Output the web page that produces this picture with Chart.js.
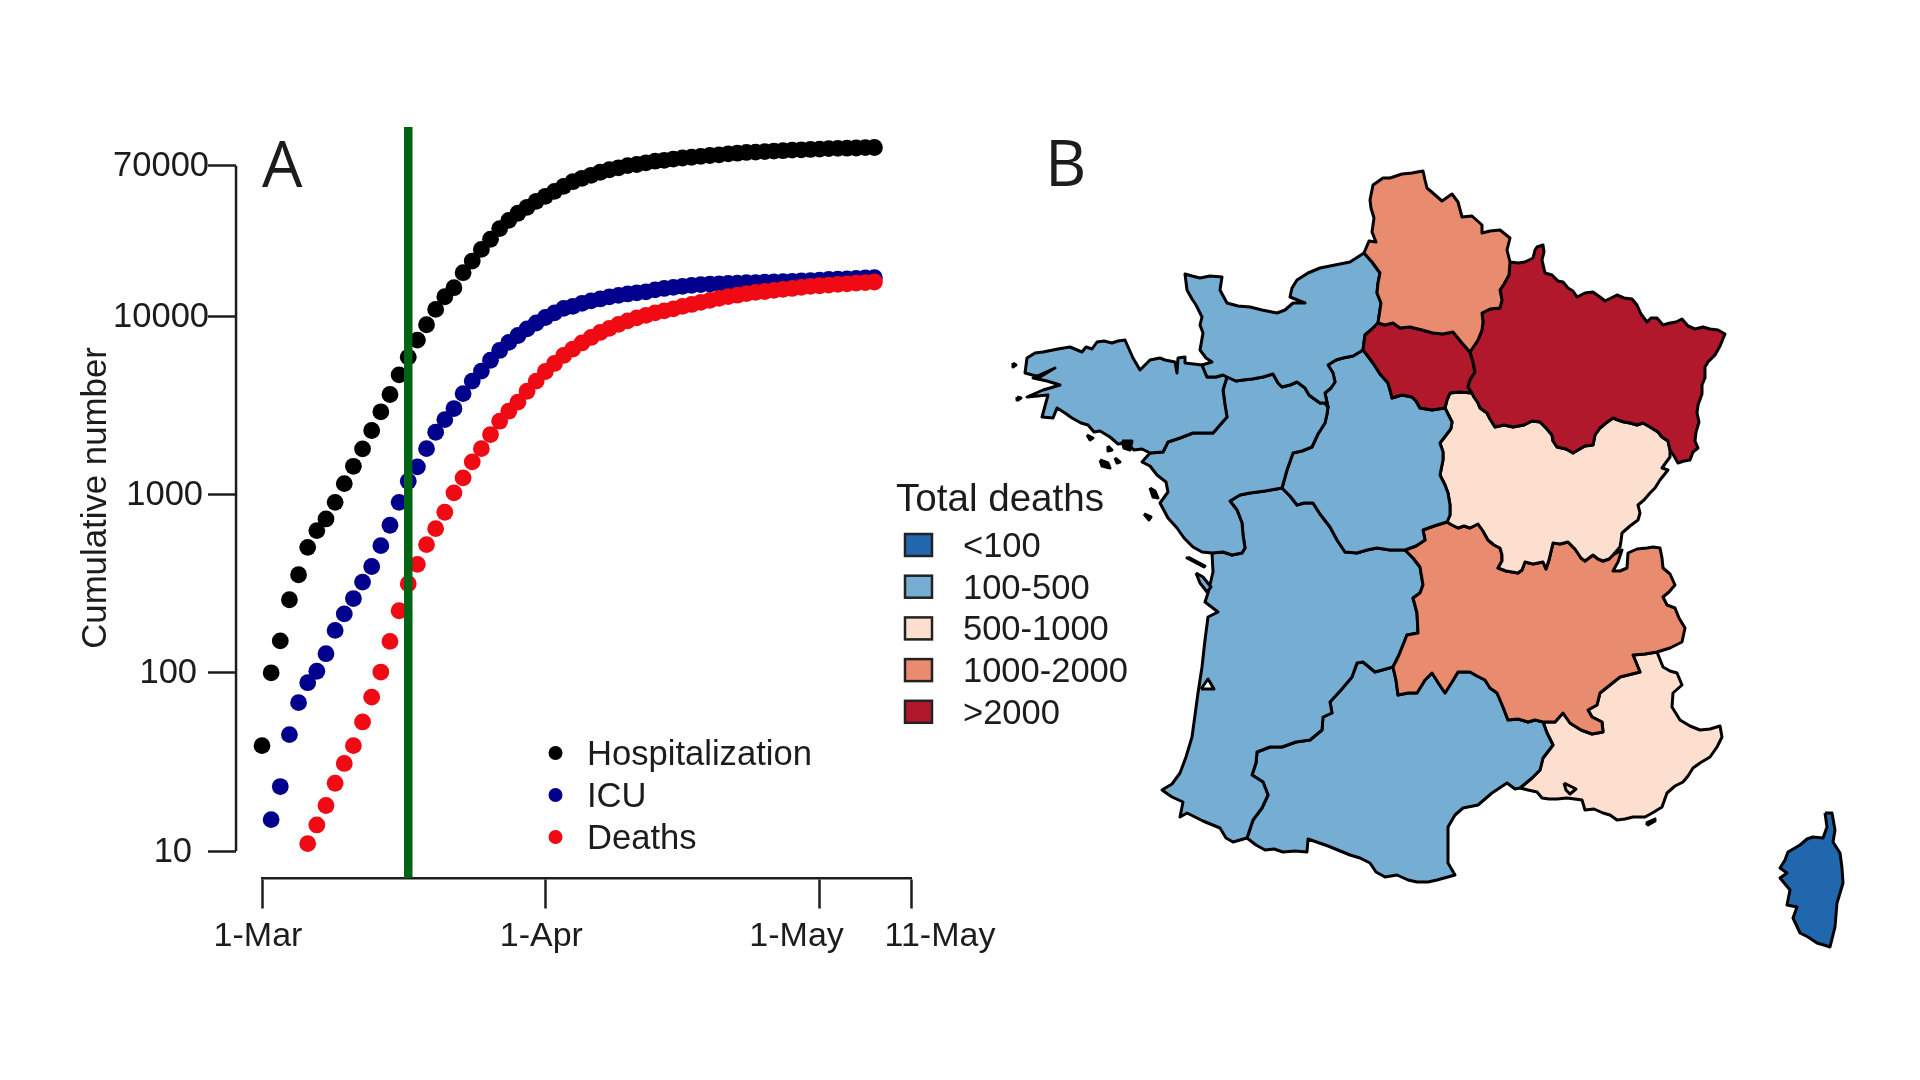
<!DOCTYPE html>
<html>
<head>
<meta charset="utf-8">
<style>
  html, body { margin: 0; background: #fff; }
  canvas { position: absolute; left: 0; top: 0; }
</style>
<script src="https://cdn.jsdelivr.net/npm/chart.js@4"></script>
</head>
<body>
<canvas id="map" width="1920" height="1080"></canvas>
<canvas id="curves" width="1920" height="1080"></canvas>
<script>
/* Panel A: days since 1 March, cumulative counts */
const hospStart = 0;
const hospitalization = [39, 100, 151, 257, 355, 506, 628, 730, 905, 1153, 1442, 1807, 2290, 2915, 3645, 4700, 5905, 7360, 8980, 10950,
  12890, 14490, 17590, 20450, 23770, 27100, 31100, 34600, 37930, 40950, 44260, 47210, 50350, 53700, 57020, 59570, 61950, 64400, 66530, 68230,
  70150, 71200, 72780, 74300, 75200, 76400, 77450, 78200, 79070, 79980, 80720, 81660, 82410, 83180, 83560, 84140, 84720, 85110, 85700, 86100,
  86500, 86900, 87500, 87700, 87900, 88100, 88500, 88720];
const icuStart = 1;
const icu = [15, 23, 45, 68, 88, 102, 128, 173, 214, 261, 323, 395, 517, 673, 905, 1188, 1432, 1811, 2239, 2637,
  3041, 3690, 4335, 4932, 5675, 6440, 7145, 7816, 8510, 9183, 9863, 10470, 11090, 11380, 11830, 12220, 12530, 12880, 13120, 13370,
  13550, 13740, 14090, 14350, 14550, 14760, 14930, 15070, 15170, 15240, 15310, 15380, 15450, 15490, 15560, 15630, 15680, 15740, 15810, 15880,
  16000, 16110, 16180, 16260, 16330, 16440, 16490];
const deathsStart = 5;
const deaths = [11, 14, 18, 24, 31, 39, 53, 73, 101, 150, 223, 316, 406, 524, 644, 796, 1023, 1241, 1527, 1811,
  2173, 2582, 2938, 3303, 3802, 4335, 4909, 5445, 6039, 6561, 7096, 7621, 8128, 8570, 9016, 9441, 9817, 10140, 10470, 10740,
  11020, 11380, 11670, 11990, 12300, 12620, 12910, 13150, 13430, 13650, 13800, 14000, 14190, 14350, 14550, 14760, 14860, 15000, 15140, 15240,
  15380, 15490, 15600];
const lockdownDay = 16;
const seriesNames = ['Hospitalization', 'ICU', 'Deaths'];
const seriesColors = ['#000000', '#00008c', '#f00a14'];
const yTickValues = [10, 100, 1000, 10000, 70000];
const xTickDays = [0, 31, 61, 71];
const xTickLabels = ['1-Mar', '1-Apr', '1-May', '11-May'];

/* Panel B: legend classes and region outlines in map units */
const classNames = ['<100', '100-500', '500-1000', '1000-2000', '>2000'];
const classColors = ['#2067ad', '#75aed2', '#fddfcf', '#e88b6f', '#b2182b'];

const nordCoast = [[1364,253],[1369,241],[1376,242],[1372,232],[1374,218],[1371,208],[1370,200],[1373,185],[1383,178],[1390,178],[1402,174],[1412,173],[1423,171],[1425,180],[1427,188],[1434,194],[1442,201],[1452,194],[1458,202],[1462,217],[1472,216],[1482,225],[1482,233],[1490,231],[1500,230],[1510,238],[1507,250],[1510,262]];
const hdfGes = [[1510,262],[1509,275],[1504,284],[1500,290],[1502,300],[1500,308],[1490,309],[1482,313],[1483,322],[1482,330],[1478,340],[1470,352]];
const hdfIdf = [[1470,352],[1462,343],[1453,332],[1443,334],[1433,333],[1422,330],[1410,327],[1400,328],[1393,323],[1385,325],[1378,323]];
const gesOuter = [[1510,262],[1518,263],[1525,262],[1533,258],[1535,250],[1537,247],[1543,245],[1544,252],[1542,260],[1545,273],[1552,275],[1558,281],[1563,282],[1568,288],[1573,291],[1577,297],[1585,293],[1593,292],[1600,297],[1605,301],[1611,298],[1617,295],[1624,298],[1632,299],[1637,305],[1641,314],[1647,322],[1651,318],[1657,318],[1663,325],[1670,323],[1676,322],[1682,319],[1688,326],[1695,329],[1703,327],[1710,329],[1718,330],[1725,334],[1720,346],[1715,355],[1708,362],[1705,367],[1705,378],[1702,385],[1702,394],[1698,405],[1697,413],[1699,422],[1696,432],[1695,441],[1698,448],[1693,452],[1690,460],[1684,461],[1678,463],[1674,456],[1670,450]];
const gesBfc = [[1670,450],[1668,441],[1662,437],[1658,432],[1650,427],[1643,423],[1637,425],[1630,423],[1624,422],[1618,420],[1613,418],[1606,423],[1600,428],[1595,435],[1593,445],[1585,446],[1578,450],[1573,453],[1566,449],[1557,447],[1553,441],[1552,435],[1546,428],[1540,422],[1532,421],[1524,425],[1513,427],[1504,425],[1495,427],[1490,419],[1487,413],[1480,408],[1478,403],[1474,397],[1472,393]];
const idfGes = [[1470,352],[1473,362],[1475,372],[1470,380],[1468,387],[1472,393]];
const idfBfc = [[1472,393],[1460,392],[1450,393],[1447,400],[1445,408]];
const idfCvl = [[1445,408],[1432,410],[1420,408],[1416,401],[1412,397],[1402,395],[1392,398],[1390,390],[1388,383],[1380,374],[1373,363],[1367,355],[1363,350]];
const norIdf = [[1363,350],[1365,335],[1372,329],[1378,323]];
const norHdf = [[1378,323],[1381,303],[1377,293],[1378,283],[1380,273],[1372,262],[1364,253]];
const norCoast = [[1364,253],[1350,262],[1335,265],[1320,268],[1308,273],[1297,280],[1292,288],[1290,297],[1305,303],[1293,303],[1285,310],[1277,313],[1262,310],[1250,307],[1238,306],[1227,303],[1220,290],[1222,277],[1210,276],[1200,278],[1192,276],[1185,274],[1187,290],[1192,299],[1196,305],[1202,317],[1200,325],[1203,333],[1200,350],[1206,358],[1212,362],[1202,365]];
const norBre = [[1202,365],[1207,377],[1216,377],[1223,375],[1227,377]];
const norPdl = [[1227,377],[1236,381],[1243,380],[1252,379],[1263,377],[1273,374],[1278,383],[1282,387],[1290,385],[1297,382],[1305,388],[1309,395],[1313,398],[1320,403],[1325,403],[1328,407]];
const norCvl = [[1328,407],[1325,393],[1331,388],[1335,382],[1333,373],[1328,365],[1336,360],[1343,358],[1353,356],[1363,350]];
const breCoast = [[1202,365],[1185,363],[1185,357],[1178,358],[1177,373],[1175,362],[1165,360],[1160,358],[1150,360],[1140,370],[1133,358],[1125,340],[1118,341],[1112,343],[1104,341],[1097,342],[1092,349],[1086,347],[1082,352],[1070,347],[1058,349],[1043,352],[1035,353],[1027,358],[1025,373],[1040,377],[1055,368],[1033,378],[1047,381],[1060,385],[1050,388],[1043,390],[1027,397],[1048,395],[1042,417],[1053,418],[1057,408],[1065,413],[1072,418],[1081,423],[1088,425],[1094,432],[1100,431],[1110,437],[1118,444],[1126,443],[1134,450],[1142,449],[1150,453]];
const brePdl = [[1150,453],[1163,452],[1168,442],[1180,438],[1193,433],[1203,433],[1213,433],[1220,425],[1227,417],[1225,405],[1223,390],[1227,377]];
const pdlCoast = [[1150,453],[1142,462],[1150,466],[1157,475],[1166,482],[1168,492],[1160,503],[1168,518],[1177,528],[1184,538],[1193,547],[1202,552],[1212,553]];
const pdlNaq = [[1212,553],[1223,552],[1232,555],[1242,553],[1245,548],[1243,535],[1242,523],[1237,510],[1230,501],[1240,495],[1250,493],[1265,491],[1282,488]];
const pdlCvl = [[1282,488],[1287,470],[1293,453],[1302,451],[1312,447],[1318,434],[1325,423],[1327,414],[1328,407]];
const cvlNaq = [[1282,488],[1290,496],[1297,505],[1304,503],[1313,503],[1320,514],[1330,527],[1337,540],[1345,552],[1357,553],[1367,550],[1377,548],[1390,550],[1405,550]];
const cvlAra = [[1405,550],[1416,546],[1425,540],[1423,530],[1434,526],[1447,522]];
const cvlBfc = [[1445,408],[1452,422],[1451,428],[1450,430],[1440,443],[1443,452],[1443,460],[1440,475],[1445,485],[1448,493],[1450,505],[1450,515],[1447,522]];
const bfcAra = [[1447,522],[1452,525],[1458,528],[1464,526],[1470,528],[1478,524],[1483,531],[1488,540],[1494,545],[1500,548],[1502,555],[1502,561],[1498,568],[1506,571],[1518,573],[1522,570],[1525,562],[1533,564],[1543,562],[1546,569],[1549,560],[1553,543],[1560,544],[1568,542],[1575,549],[1581,558],[1585,561],[1593,555],[1598,559],[1603,561],[1609,559],[1613,555]];
const bfcEast = [[1670,450],[1670,457],[1662,468],[1668,470],[1660,480],[1655,488],[1650,493],[1644,500],[1638,505],[1640,513],[1638,520],[1630,526],[1622,533],[1621,541],[1620,547],[1613,555]];
const araEast = [[1613,555],[1622,550],[1618,562],[1613,571],[1620,571],[1627,568],[1628,553],[1637,549],[1647,548],[1653,547],[1660,548],[1662,558],[1663,568],[1670,574],[1675,585],[1669,592],[1663,597],[1667,605],[1675,608],[1679,618],[1685,628],[1682,642],[1670,648],[1657,652]];
const araPac = [[1657,652],[1645,654],[1633,655],[1640,672],[1628,675],[1620,677],[1610,685],[1600,693],[1597,705],[1588,710],[1592,717],[1602,722],[1603,732],[1592,734],[1581,730],[1570,723],[1563,713],[1555,722],[1543,722]];
const araOcc = [[1543,722],[1535,720],[1528,722],[1518,719],[1508,720],[1503,707],[1497,693],[1490,688],[1485,680],[1477,676],[1470,672],[1458,672],[1452,682],[1445,693],[1439,684],[1432,673],[1425,680],[1417,693],[1408,693],[1398,695],[1396,680],[1393,667]];
const araNaq = [[1393,667],[1399,655],[1407,635],[1418,633],[1417,613],[1413,598],[1420,593],[1423,585],[1420,567],[1413,558],[1405,550]];
const naqCoast = [[1212,553],[1213,572],[1208,593],[1205,602],[1218,612],[1208,617],[1205,640],[1202,667],[1198,693],[1195,715],[1192,737],[1186,757],[1180,773],[1172,784],[1162,790],[1172,797],[1183,802],[1180,817],[1187,813],[1203,821],[1220,828],[1226,838],[1233,842],[1247,838]];
const naqOcc = [[1247,838],[1253,820],[1262,808],[1268,795],[1263,782],[1252,775],[1256,763],[1257,752],[1270,747],[1282,747],[1296,742],[1310,740],[1322,730],[1323,717],[1332,713],[1330,702],[1341,690],[1352,677],[1357,663],[1363,662],[1375,672],[1393,667]];
const occCoast = [[1247,838],[1256,845],[1265,850],[1274,849],[1283,852],[1295,851],[1307,852],[1308,839],[1328,846],[1350,855],[1360,858],[1370,863],[1376,872],[1385,877],[1397,875],[1408,880],[1417,882],[1428,882],[1437,880],[1455,875],[1448,863],[1448,845],[1448,827],[1455,815],[1463,808],[1478,805],[1492,793],[1507,783],[1515,789],[1520,788]];
const occPac = [[1520,788],[1532,778],[1540,770],[1543,758],[1553,745],[1547,733],[1543,722]];
const pacCoast = [[1657,652],[1663,667],[1670,671],[1677,673],[1682,685],[1673,693],[1672,707],[1680,720],[1690,726],[1700,730],[1710,729],[1720,726],[1722,737],[1717,747],[1710,757],[1700,763],[1693,768],[1688,776],[1683,782],[1675,786],[1667,793],[1662,807],[1654,812],[1645,817],[1633,817],[1625,819],[1617,820],[1610,815],[1603,813],[1594,809],[1585,810],[1582,800],[1567,798],[1557,799],[1549,799],[1542,798],[1537,792],[1528,790],[1520,788]];
const corsica = [[1825,813],[1832,813],[1835,830],[1833,842],[1840,853],[1842,868],[1843,883],[1837,903],[1836,915],[1835,927],[1830,947],[1824,945],[1817,943],[1808,937],[1800,933],[1793,918],[1797,907],[1787,905],[1790,890],[1780,878],[1787,873],[1780,868],[1785,860],[1788,852],[1800,845],[1807,839],[1813,837],[1823,838],[1827,827]];
const islets = [
  [[1013,363],[1016,365],[1013,367]], [[1017,397],[1021,398],[1018,400]], [[1087,435],[1093,438],[1090,440]],
  [[1100,460],[1108,463],[1110,468],[1102,466]], [[1115,458],[1120,462],[1117,463]], [[1108,446],[1112,450],[1108,451]],
  [[1122,441],[1132,441],[1130,450],[1124,448]], [[1150,488],[1155,491],[1158,498],[1153,497]], [[1144,514],[1151,517],[1149,520]],
  [[1188,557],[1205,566],[1204,567],[1187,558]], [[1646,823],[1655,819],[1655,821],[1648,825]],
];
const oleron = [[1196,573],[1203,577],[1211,587],[1207,592],[1200,583]];
const lagoons = [[[1201,689],[1208,679],[1214,689]], [[1564,783],[1576,789],[1570,794],[1566,790]]];

const back = part => [...part].reverse();
const xy = ring => ring.map(([x, y]) => ({ x, y }));
const series = (values, start) => values.map((y, i) => ({ x: start + i, y }));
const inkColor = '#1c1c1c';
const sans = '"Liberation Sans"';

/* nudges the library's tick labels, the original axes were placed by hand */
function tickNudge(byAxis) {
  return {
    id: 'tickNudge',
    beforeDraw(chart) {
      Object.keys(byAxis).forEach(id => {
        chart.scales[id].getLabelItems().forEach((item, i) => {
          const [dx, dy] = byAxis[id][i];
          item.options.translation = [item.options.translation[0] + dx, item.options.translation[1] + dy];
        });
      });
    },
  };
}

function putText(ctx, text, x, y, font, rotate) {
  ctx.save();
  ctx.translate(x, y);
  if (rotate) ctx.rotate(rotate);
  ctx.font = font;
  ctx.fillStyle = inkColor;
  ctx.textAlign = rotate ? 'center' : 'left';
  ctx.textBaseline = 'alphabetic';
  ctx.fillText(text, 0, 0);
  ctx.restore();
}

const curvesText = {
  id: 'curvesText',
  afterDraw(chart) {
    const ctx = chart.ctx;
    putText(ctx, 'A', 262, 187, '64px "Open Sans"');
    putText(ctx, 'Cumulative number', 106, 498, `34.8px ${sans}`, -Math.PI / 2);
    seriesNames.forEach((name, i) => {
      ctx.beginPath();
      ctx.arc(555.5, 753 + 42 * i, 7, 0, Math.PI * 2);
      ctx.fillStyle = seriesColors[i];
      ctx.fill();
      putText(ctx, name, 587, 765 + 42 * i, `34.6px ${sans}`);
    });
  },
};

const mapText = {
  id: 'mapText',
  afterDraw(chart) {
    const ctx = chart.ctx;
    putText(ctx, 'B', 1045, 186, '64px "Open Sans"');
    putText(ctx, 'Total deaths', 896, 511, `38.6px ${sans}`);
    classNames.forEach((name, i) => {
      ctx.fillStyle = classColors[i];
      ctx.strokeStyle = '#222';
      ctx.lineWidth = 2.5;
      ctx.fillRect(905, 534 + 41.7 * i, 27, 22);
      ctx.strokeRect(905, 534 + 41.7 * i, 27, 22);
      putText(ctx, name, 963, 557 + 41.7 * i, `34.5px ${sans}`);
    });
  },
};

const dots = (label, values, start, color, order) => ({
  label, data: series(values, start), backgroundColor: color, borderWidth: 0,
  pointRadius: 8.4, clip: false, order,
});
const rule = (label, data, color, width, order) => ({
  label, data, showLine: true, borderColor: color, borderWidth: width, pointRadius: 0, clip: false, order,
});

new Chart(document.getElementById('curves'), {
  type: 'scatter',
  data: {
    datasets: [
      rule('Lockdown', [{ x: lockdownDay, y: 7.05 }, { x: lockdownDay, y: 115600 }], '#006414', 8.5, 0),
      dots(seriesNames[2], deaths, deathsStart, seriesColors[2], 1),
      dots(seriesNames[1], icu, icuStart, seriesColors[1], 2),
      dots(seriesNames[0], hospitalization, hospStart, seriesColors[0], 3),
      rule('Y axis', [{ x: -2.84, y: 10 }, { x: -2.84, y: 70000 }], inkColor, 2.5, 4),
    ],
  },
  options: {
    responsive: false, animation: false, events: [],
    layout: { padding: { left: 262, right: 1920 - 911, top: 127, bottom: 1080 - 851 } },
    plugins: { legend: { display: false }, tooltip: { enabled: false } },
    scales: {
      x: {
        type: 'linear', axis: 'x', min: 0, max: 71, position: { y: 7.05 },
        afterBuildTicks: scale => { scale.ticks = xTickDays.map(value => ({ value })); },
        ticks: { autoSkip: false, maxRotation: 0, padding: 8, color: inkColor, font: { family: sans, size: 34 }, callback: v => xTickLabels[xTickDays.indexOf(v)] },
        grid: { drawOnChartArea: false, tickLength: 29, tickWidth: 2.5, tickColor: inkColor },
        border: { color: inkColor, width: 2.5 },
      },
      y: {
        type: 'logarithmic', axis: 'y', min: 10, max: 115600, position: { x: -2.84 },
        afterBuildTicks: scale => { scale.ticks = yTickValues.map(value => ({ value })); },
        ticks: { autoSkip: false, color: inkColor, font: { family: sans, size: 34.5 }, callback: v => String(v) },
        grid: { drawOnChartArea: false, tickLength: 28, tickWidth: 2.5, tickColor: inkColor },
        border: { display: false },
      },
    },
  },
  plugins: [
    tickNudge({
      x: [[-4, 1], [-4, 1], [-23, 1], [29, 1]],
      y: [[-44, 1], [-39, 1], [-33, 1], [-27, 1], [-27, 1]],
    }),
    curvesText,
  ],
});

const region = (label, color, ...parts) => ({
  label, data: xy(parts.flat()), showLine: true, fill: 'shape', backgroundColor: color,
  borderColor: '#000', borderWidth: 3, borderJoinStyle: 'round', pointRadius: 0,
});
const closed = (label, color, ring) => region(label, color, ring, ring.slice(0, 1));
const [cDark, cBlue, cPale, cSalmon, cRed] = classColors;

new Chart(document.getElementById('map'), {
  type: 'scatter',
  data: {
    datasets: [
      /* first dataset is painted last, so the small shapes go on top */
      closed('Arcachon', '#ffffff', lagoons[0]),
      closed('Berre', cPale, lagoons[1]),
      closed('Oleron', cBlue, oleron),
      ...islets.map(blob => closed('islet', '#000', blob)),
      region('Hauts-de-France', cSalmon, nordCoast, hdfGes, hdfIdf, norHdf),
      region('Grand Est', cRed, gesOuter, gesBfc, back(idfGes), back(hdfGes)),
      region('Ile-de-France', cRed, norIdf, back(hdfIdf), idfGes, idfBfc, idfCvl),
      region('Normandie', cBlue, norCoast, norBre, norPdl, norCvl, norIdf, norHdf),
      region('Bretagne', cBlue, breCoast, brePdl, back(norBre)),
      region('Pays de la Loire', cBlue, back(brePdl), pdlCoast, pdlNaq, pdlCvl, back(norPdl)),
      region('Centre-Val de Loire', cBlue, back(norCvl), back(pdlCvl), cvlNaq, cvlAra, back(cvlBfc), idfCvl),
      region('Bourgogne-Franche-Comte', cPale, cvlBfc, bfcAra, back(bfcEast), gesBfc, idfBfc),
      region('Auvergne-Rhone-Alpes', cSalmon, back(bfcAra), back(cvlAra), back(araNaq), back(araOcc), back(araPac), back(araEast)),
      region('Nouvelle-Aquitaine', cBlue, back(pdlNaq), naqCoast, naqOcc, araNaq, back(cvlNaq)),
      region('Occitanie', cBlue, back(naqOcc), occCoast, occPac, araOcc),
      region('Provence-Alpes-Cote d Azur', cPale, back(occPac), back(araPac), pacCoast),
      closed('Corse', cDark, corsica),
    ],
  },
  options: {
    responsive: false, animation: false, events: [],
    layout: { padding: 0 },
    plugins: { legend: { display: false }, tooltip: { enabled: false } },
    scales: {
      x: { type: 'linear', min: 0, max: 1920, display: false },
      y: { type: 'linear', min: 0, max: 1080, reverse: true, display: false },
    },
  },
  plugins: [mapText],
});
</script>
</body>
</html>
